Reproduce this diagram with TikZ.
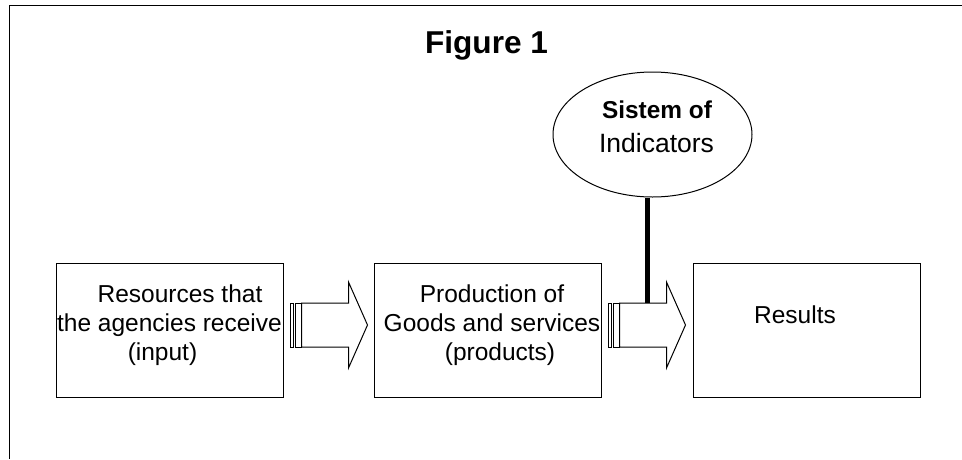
\documentclass[tikz,border=0pt]{standalone}
\usepackage{fontspec}
\setmainfont{Liberation Sans}
\usetikzlibrary{shapes.geometric,calc}

\begin{document}
\begin{tikzpicture}[x=1pt,y=-1pt,
	box/.style={draw,line width=1pt,minimum width=227pt,minimum height=134pt,inner sep=0pt},
	txt/.style={font=\fontsize{24.5}{29}\selectfont,align=center,inner sep=0pt},
	stripe/.style={draw,line width=0.8pt,fill=white}]
	\useasboundingbox (0,0) rectangle (962,459);
	\draw[line width=1pt] (962,5) -- (9,5) -- (9,459);
	\node[font=\bfseries\fontsize{31.6}{36}\selectfont,anchor=base,inner sep=0pt] (fig) at (486.5,53) {Figure 1};
	% the three boxes
	\node[box] (res) at (169.5,330) {};
	\node[box] (prod) at (487.5,330) {};
	\node[box] (out) at (807,330) {};
	\node[txt] (restxt) at ($(res.center)+(0,-5)$) {\hspace*{21pt}Resources that\\the agencies receive\\(input)\hspace*{14pt}};
	\node[txt] (prodtxt) at ($(prod.center)+(4.5,-5)$) {Production of\\Goods and services\\\hspace*{16pt}(products)};
	\node[txt,anchor=base] (outtxt) at ($(out.center)+(-12,-7)$) {Results};
	% striped arrows between boxes
	\foreach \a in {res,prod} {
		\coordinate (s) at ($(\a.east)+(7,-5)$);
		\draw[line width=1pt] ($(s)+(11,-22)$) -- ($(s)+(58,-22)$) -- ($(s)+(58,-43)$) -- ($(s)+(77,0)$)
			-- ($(s)+(58,43)$) -- ($(s)+(58,22)$) -- ($(s)+(11,22)$) -- cycle;
		\draw[stripe] ($(s)+(0,-22)$) rectangle ($(s)+(3,22)$);
		\draw[stripe] ($(s)+(5,-22)$) rectangle ($(s)+(11,22)$);
	}
	% indicators
	\node[draw,ellipse,line width=1pt,minimum width=199pt,minimum height=125pt,inner sep=0pt] (ind) at (652.5,134.5) {};
	\node[anchor=base,inner sep=0pt,font=\bfseries\fontsize{24.4}{29}\selectfont] (sis) at ($(ind.center)+(4.5,-16.5)$) {Sistem of};
	\node[anchor=base,inner sep=0pt,font=\fontsize{26.5}{31}\selectfont] (indtxt) at ($(ind.center)+(4,17.5)$) {Indicators};
	\coordinate (lk) at ($(prod.east)+(46,-27)$);
	\draw[line width=5pt] (lk |- ind.south) -- (lk);
\end{tikzpicture}
\end{document}
